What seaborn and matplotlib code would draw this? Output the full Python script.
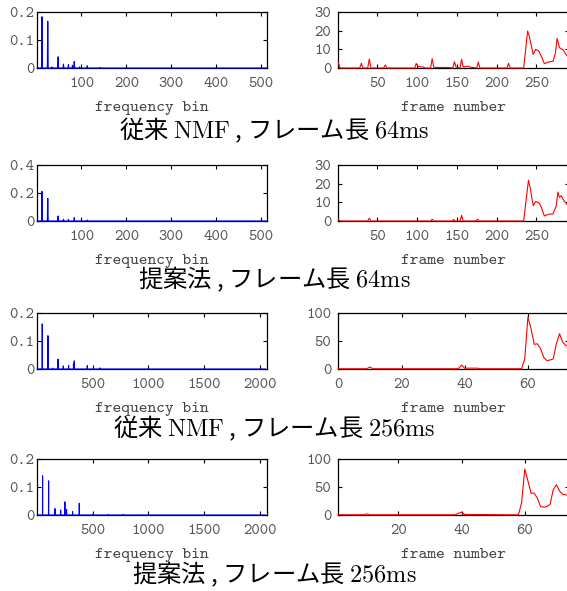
import numpy as np
import pandas as pd
import seaborn as sns
import matplotlib.pyplot as plt

# ---- data ----
captions = ["従来 $\\mathrm{NMF}$ , フレーム長 $\\mathrm{64ms}$",
            "提案法 , フレーム長 $\\mathrm{64ms}$",
            "従来 $\\mathrm{NMF}$ , フレーム長 $\\mathrm{256ms}$",
            "提案法 , フレーム長 $\\mathrm{256ms}$"]

# spectra (basis vectors): peak bins and heights, rest of the bins are 0
nbins_64 = 513
nbins_256 = 2049
peak_bin_64_nmf = [12, 25, 34, 48, 60, 71, 80, 84, 96, 113, 141]
peak_val_64_nmf = [0.183, 0.167, 0.004, 0.040, 0.014, 0.012, 0.010, 0.023, 0.004, 0.008, 0.002]
peak_bin_64_prop = [12, 25, 48, 60, 71, 84, 113]
peak_val_64_prop = [0.211, 0.162, 0.036, 0.012, 0.012, 0.024, 0.007]
peak_bin_256_nmf = [48, 99, 141, 189, 237, 284, 328, 335, 452, 566]
peak_val_256_nmf = [0.161, 0.119, 0.003, 0.035, 0.011, 0.013, 0.020, 0.029, 0.012, 0.004]
peak_bin_256_prop = [51, 105, 162, 213, 251, 266, 320, 380, 506, 641, 775, 910]
peak_val_256_prop = [0.140, 0.122, 0.023, 0.018, 0.047, 0.020, 0.012, 0.042, 0.006, 0.002, 0.002, 0.001]

# activations
act_frame_64_nmf = [1, 3, 28, 30, 32, 38, 40, 42, 58, 60, 62, 97, 99, 101, 108, 110, 117, 119, 121,
                    140, 145, 147, 149, 154, 156, 158, 163, 167, 175, 177, 179, 213, 215, 217, 234,
                    239, 241, 246, 249, 253, 257, 260, 265, 271, 274, 276, 279, 284, 288, 291]
act_val_64_nmf = [3.0, 0, 0, 2.5, 0, 0, 4.8, 0, 0, 1.6, 0, 0, 2.5, 0.8, 0.5, 0, 0, 5.0, 0.3,
                  0.3, 0, 3.4, 0.5, 0, 4.7, 0.5, 1.0, 0.5, 0, 3.2, 0, 0, 2.5, 0, 0,
                  19.8, 17.1, 7.3, 10.0, 9.1, 5.5, 2.3, 3.2, 3.6, 8.2, 15.9, 10.9, 9.5, 6.8, 5.5]
act_frame_64_prop = [1, 3, 38, 40, 42, 117, 119, 121, 144, 146, 148, 154, 156, 158, 174, 176, 178,
                     234, 240, 242, 246, 249, 254, 257, 260, 265, 271, 275, 277, 279, 281, 284, 288, 291]
act_val_64_prop = [1.0, 0, 0, 1.5, 0, 0, 1.0, 0, 0, 0.8, 0, 0, 3.0, 0, 0, 1.0, 0,
                   0, 21.8, 18.2, 8.2, 10.5, 9.5, 6.4, 2.7, 3.6, 3.8, 8.2, 15.5, 12.7, 13.6, 11.3, 9.1, 8.0]
act_frame_256_nmf = [0, 9, 10, 11, 38, 39, 40, 44, 45, 58, 59, 60, 61, 62, 63, 64, 65, 66, 67, 68,
                     69, 70, 71, 72, 73]
act_val_256_nmf = [0.5, 0.5, 3.6, 0.5, 0.5, 7.0, 1.5, 1.5, 0.5, 0.5, 18, 93, 72, 44, 45, 36, 21, 15, 16, 18,
                   45, 63, 48, 42, 40]
act_frame_256_prop = [1, 9, 10, 11, 38, 39, 40, 41, 58, 59, 60, 61, 62, 63, 64, 65, 66, 67, 68,
                      69, 70, 71, 72, 74]
act_val_256_prop = [0.5, 0.5, 2.0, 0.5, 0.5, 3.0, 5.0, 1.0, 0.3, 22, 82, 61, 39, 39, 30, 15, 14, 15, 19,
                    45, 54, 43, 37, 35]

# axes settings
spec_xlim = [(1, 513), (1, 513), (1, 2060), (1, 2060)]
spec_xticks = [[100, 200, 300, 400, 500], [100, 200, 300, 400, 500],
               [500, 1000, 1500, 2000], [500, 1000, 1500, 2000]]
spec_yticks = [[0, 0.1, 0.2], [0, 0.2, 0.4], [0, 0.1, 0.2], [0, 0.1, 0.2]]
spec_ylabels = [["0", "0.1", "0.2"], ["0", "0.2", "0.4"], ["0", "0.1", "0.2"], ["0", "0.1", "0.2"]]
act_xlim = [(1, 291), (1, 291), (0, 73), (1, 74)]
act_xticks = [[50, 100, 150, 200, 250], [50, 100, 150, 200, 250], [0, 20, 40, 60], [20, 40, 60]]
act_yticks = [[0, 10, 20, 30], [0, 10, 20, 30], [0, 50, 100], [0, 50, 100]]


def make_spec(nbins, bins, vals):
    s = np.zeros(nbins)
    for b, v in zip(bins, vals):
        s[b - 1] = v
    return pd.DataFrame({"bin": np.arange(1, nbins + 1), "amp": s})


spectra = [make_spec(nbins_64, peak_bin_64_nmf, peak_val_64_nmf),
           make_spec(nbins_64, peak_bin_64_prop, peak_val_64_prop),
           make_spec(nbins_256, peak_bin_256_nmf, peak_val_256_nmf),
           make_spec(nbins_256, peak_bin_256_prop, peak_val_256_prop)]
acts = [pd.DataFrame({"frame": act_frame_64_nmf, "act": act_val_64_nmf}),
        pd.DataFrame({"frame": act_frame_64_prop, "act": act_val_64_prop}),
        pd.DataFrame({"frame": act_frame_256_nmf, "act": act_val_256_nmf}),
        pd.DataFrame({"frame": act_frame_256_prop, "act": act_val_256_prop})]

sns.set_style("ticks")
plt.rcParams["font.family"] = ["cmtt10", "DejaVu Sans Mono"]
plt.rcParams["mathtext.fontset"] = "cm"

W, H = 567, 591
fig = plt.figure(figsize=(W / 100, H / 100), dpi=100)
tops = [12, 165, 313, 459]
ah = 56
tick_col = "#555555"


def style(ax, pad_y):
    for sp in ax.spines.values():
        sp.set_linewidth(0.9)
        sp.set_color("black")
    ax.tick_params(direction="in", top=True, right=True, length=3, width=0.8,
                   labelsize=11.5, colors="black", labelcolor=tick_col)
    ax.tick_params(axis="x", pad=6.5)
    ax.tick_params(axis="y", pad=pad_y)
    ax.set_ylabel("")


for i in range(4):
    y0 = 1 - (tops[i] + ah) / H
    axl = fig.add_axes([37 / W, y0, 229.7 / W, ah / H])
    sns.lineplot(data=spectra[i], x="bin", y="amp", ax=axl, color="#0000ff",
                 linewidth=0.8, estimator=None, sort=False, clip_on=False, zorder=3)
    axl.set_xlim(*spec_xlim[i])
    axl.set_ylim(spec_yticks[i][0], spec_yticks[i][-1])
    axl.set_xticks(spec_xticks[i])
    axl.set_yticks(spec_yticks[i], labels=spec_ylabels[i])
    style(axl, 2)
    axl.set_xlabel("frequency bin", fontsize=12, color="#444444", labelpad=7.5)

    axr = fig.add_axes([338.3 / W, y0, 230.7 / W, ah / H])
    sns.lineplot(data=acts[i], x="frame", y="act", ax=axr, color="#ff0000",
                 linewidth=0.8, estimator=None, sort=False, clip_on=False, zorder=3)
    axr.set_xlim(*act_xlim[i])
    axr.set_ylim(act_yticks[i][0], act_yticks[i][-1])
    axr.set_xticks(act_xticks[i])
    axr.set_yticks(act_yticks[i])
    style(axr, 5)
    axr.set_xlabel("frame number", fontsize=12, color="#444444", labelpad=7.5)

cap_y = [130, 279, 428, 574]
for i in range(4):
    fig.text(274 / W, 1 - cap_y[i] / H, captions[i], ha="center", va="center",
             fontsize=17.5, family=["Noto Sans CJK JP", "DejaVu Sans"], color="black")

fig.savefig("out.png", dpi=100)
